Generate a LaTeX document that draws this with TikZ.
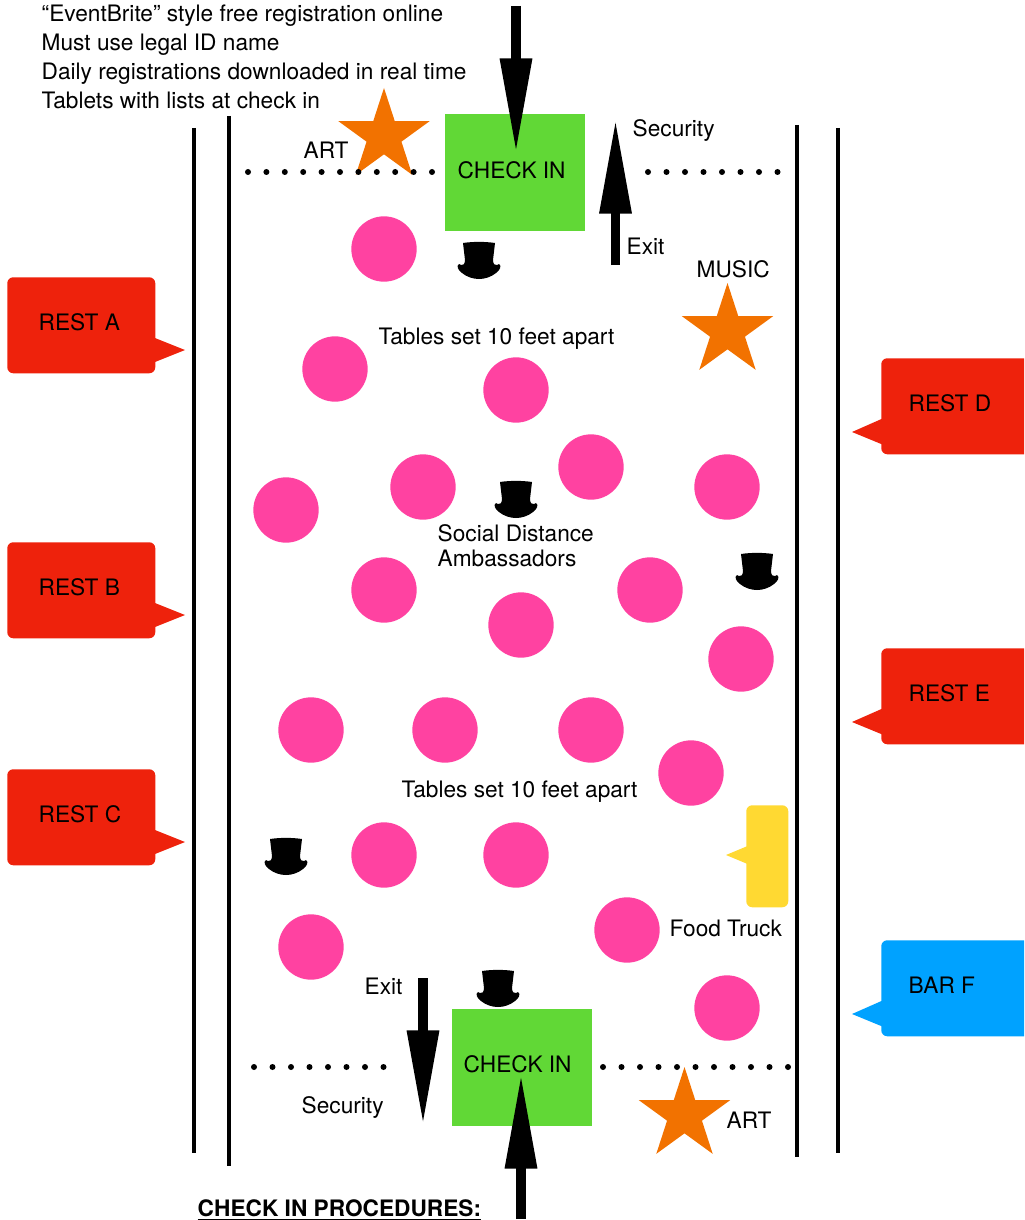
\documentclass[tikz,border=0pt]{standalone}
\usepackage{fontspec}
\setmainfont{TeX Gyre Heros}
\usetikzlibrary{arrows.meta,shapes.geometric}
\definecolor{tablepink}{HTML}{FF42A1}
\definecolor{checkgreen}{HTML}{61D836}
\definecolor{restred}{HTML}{EE220C}
\definecolor{barblue}{HTML}{00A2FF}
\definecolor{truckyellow}{HTML}{FFD932}
\definecolor{starorange}{HTML}{F27200}
\tikzset{
    txt/.style={anchor=base west,inner sep=0pt,xshift=-0.4pt,yshift=-0.5pt,font=\fontsize{17}{20}\selectfont},
    wall/.style={line width=3pt},
    tablespot/.style={circle,fill=tablepink,inner sep=0pt,minimum size=49pt},
    artstar/.style={star,star points=5,star point ratio=2.618,fill=starorange,inner sep=0pt,minimum size=72pt},
    checkbox/.style={rectangle,fill=checkgreen,anchor=north west,inner sep=0pt,minimum width=105pt,minimum height=87.5pt},
    restbox/.style={rectangle,rounded corners=4.5pt,anchor=north west,inner sep=0pt,minimum width=111pt,minimum height=72pt},
    bigarrow/.style={line width=7.2pt,-{Triangle[length=71pt,width=22.5pt]}},
    tophat/.pic={
        \fill (-16,-17) .. controls (-6,-18.5) and (6,-18.5) .. (16,-17)
            -- (14,0) .. controls (14,4) and (16,6) .. (18,5) -- (20,4)
            .. controls (23,6) and (21,10) .. (17,13)
            .. controls (12,17) and (6,19) .. (0,19)
            .. controls (-6,19) and (-12,17) .. (-17,13)
            .. controls (-21,10) and (-23,6) .. (-20,4) -- (-18,5)
            .. controls (-16,6) and (-14,4) .. (-14,0) -- cycle;
    }
}
\begin{document}
\begin{tikzpicture}[x=0.75pt,y=-0.75pt]
    \clip (0,0) rectangle (1024,1220);

    \coordinate (wallAtop) at (194,128);
    \coordinate (wallAbot) at (194,1153);
    \coordinate (wallBtop) at (229,116);
    \coordinate (wallBbot) at (229,1166);
    \coordinate (wallCtop) at (797,125);
    \coordinate (wallCbot) at (797,1157);
    \coordinate (wallDtop) at (838,128);
    \coordinate (wallDbot) at (838,1153);
    \draw[wall] (wallAtop) -- (wallAbot);
    \draw[wall] (wallBtop) -- (wallBbot);
    \draw[wall] (wallCtop) -- (wallCbot);
    \draw[wall] (wallDtop) -- (wallDbot);

    \node[artstar] (starTop) at (384,136) {};
    \node[artstar] (starMusic) at (727.5,331) {};
    \node[artstar] (starBot) at (684.5,1115) {};

    \foreach \i in {0,...,10} \fill (248+18.4*\i,172) circle (3);
    \foreach \i in {0,...,7} \fill (648+18.5*\i,172) circle (3);
    \foreach \i in {0,...,7} \fill (254+18.5*\i,1067) circle (3);
    \foreach \i in {0,...,10} \fill (603+18.5*\i,1067) circle (3);

    \foreach \n/\x/\y in {a/384/249,b/335/369,c/516/390,d/423/487,e/591/467,
        f/727/487,g/286/510,h/384/590,i/650/590,j/521/625,k/741/659,l/311/730,
        m/445/730,n/591/730,o/691/773,p/384/855,q/516/855,r/311/947,s/627/930,t/727/1008}
        \node[tablespot] (table\n) at (\x,\y) {};

    \node[checkbox] (checkTop) at (445,114) {};
    \node[checkbox] (checkBot) at (452,1009) {};
    \node[txt] (checkTopText) at (458,178) {CHECK IN};
    \node[txt] (checkBotText) at (464,1072) {CHECK IN};

    \coordinate (inTopA) at (516,6);
    \coordinate (inTopB) at (516,153);
    \coordinate (exitTopA) at (615.5,265);
    \coordinate (exitTopB) at (615.5,119);
    \coordinate (exitBotA) at (423,978);
    \coordinate (exitBotB) at (423,1125);
    \coordinate (inBotA) at (521,1219);
    \coordinate (inBotB) at (521,1074);
    \draw[bigarrow] (inTopA) -- (inTopB);
    \draw[bigarrow] (exitTopA) -- (exitTopB);
    \draw[bigarrow] (exitBotA) -- (exitBotB);
    \draw[bigarrow] (inBotA) -- (inBotB);

    \foreach \n/\y in {A/277,B/542,C/769}{
        \fill[restred] (150,\y+59) -- (185,\y+73) -- (150,\y+87) -- cycle;
        \node[restbox,fill=restred] (rest\n) at (7,\y) {};
        \node[txt] (rest\n text) at (39,\y+53) {REST \n};
    }
    \foreach \n/\y in {D/358,E/648}{
        \fill[restred] (886,\y+59) -- (852,\y+74) -- (886,\y+88) -- cycle;
        \node[restbox,fill=restred,minimum width=130pt] (rest\n) at (881,\y) {};
        \node[txt] (rest\n text) at (909,\y+53) {REST \n};
    }
    \fill[barblue] (886,999) -- (852,1014) -- (886,1028) -- cycle;
    \node[restbox,fill=barblue,minimum width=130pt] (barF) at (881,940) {};
    \node[txt] (barFtext) at (909,993) {BAR F};

    \fill[truckyellow] (750,845) -- (726,855) -- (750,865) -- cycle;
    \node[restbox,fill=truckyellow,minimum width=31.5pt,minimum height=76.5pt] (truck) at (746,805) {};

    \foreach \x/\y in {479/260,516/499,757/571,286/856,498/988}
        \pic at (\x,\y) {tophat};

    \node[txt] (lineA) at (42,21) {“EventBrite” style free registration online};
    \node[txt] (lineB) at (42,50) {Must use legal ID name};
    \node[txt] (lineC) at (42,79) {Daily registrations downloaded in real time};
    \node[txt] (lineD) at (42,108) {Tablets with lists at check in};
    \node[txt] (artTop) at (304,158) {ART};
    \node[txt] (securityTop) at (633,136) {Security};
    \node[txt] (exitTop) at (627,254) {Exit};
    \node[txt] (music) at (697,277) {MUSIC};
    \node[txt] (tablesTop) at (379,344) {Tables set 10 feet apart};
    \node[txt] (socialA) at (438,541) {Social Distance};
    \node[txt] (socialB) at (438,566) {Ambassadors};
    \node[txt] (tablesBot) at (402,797) {Tables set 10 feet apart};
    \node[txt] (foodTruck) at (670,936) {Food Truck};
    \node[txt] (exitBot) at (365,994) {Exit};
    \node[txt] (securityBot) at (302,1113) {Security};
    \node[txt] (artBot) at (727,1128) {ART};
    \node[txt,font=\fontsize{17}{20}\selectfont\bfseries] (heading) at (198,1216) {\underline{CHECK IN PROCEDURES:}};
\end{tikzpicture}
\end{document}
